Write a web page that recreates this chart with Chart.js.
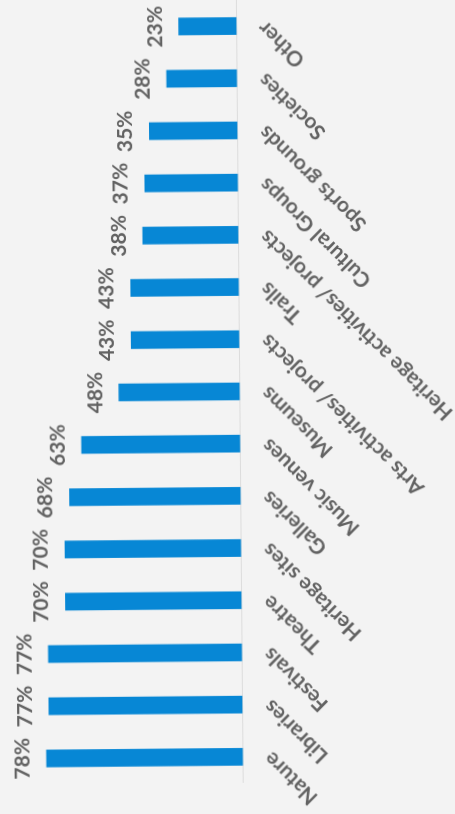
<!DOCTYPE html>
<html>
<head>
<meta charset="utf-8">
<script src="https://cdn.jsdelivr.net/npm/chart.js@4.4.1/dist/chart.umd.min.js"></script>
<style>
  html, body { margin: 0; padding: 0; background: #f3f3f3; overflow: hidden; }
  body { width: 455px; height: 814px; position: relative; }
  /* the scan shows a column chart turned a quarter turn (and a little skewed) */
  #wrap { position: absolute; left: 0; top: 0; width: 814px; height: 470px;
          transform-origin: 0 0; transform: translate(0px, 816px) rotate(-90.5deg); }
</style>
</head>
<body>
<div id="wrap"><canvas id="chart" width="814" height="470"></canvas></div>
<script>
// categories, left to right in the unrotated column chart
const categories = ['Nature', 'Libraries', 'Festivals', 'Theatre', 'Heritage sites', 'Galleries',
  'Music venues', 'Museums', 'Arts activities/ projects', 'Trails', 'Heritage activities/ projects',
  'Cultural Groups', 'Sports grounds', 'Societies', 'Other'];
// percentages
const shares = [78, 77, 77, 70, 70, 68, 63, 48, 43, 43, 38, 37, 35, 28, 23];

const TEXT = '#626262';
const FONT = 'Lato, "Liberation Sans", sans-serif';

// value label above each column
const valueLabels = {
  id: 'valueLabels',
  afterDatasetsDraw(chart) {
    const ctx = chart.ctx;
    const meta = chart.getDatasetMeta(0);
    ctx.save();
    ctx.font = 'bold 21px ' + FONT;
    ctx.fillStyle = TEXT;
    ctx.textAlign = 'center';
    ctx.textBaseline = 'alphabetic';
    meta.data.forEach((bar, i) => {
      ctx.fillText(shares[i] + '%', bar.x, bar.y - 17);
    });
    ctx.restore();
  }
};

new Chart(document.getElementById('chart'), {
  type: 'bar',
  data: {
    labels: categories,
    datasets: [{
      data: shares,
      backgroundColor: '#0787d5',
      borderWidth: 0,
      barThickness: 17
    }]
  },
  options: {
    responsive: false,
    animation: false,
    devicePixelRatio: 1,
    layout: { padding: { left: 31, right: 0, top: 17, bottom: 0 } },
    plugins: { legend: { display: false }, tooltip: { enabled: false } },
    scales: {
      y: { display: false, min: 0, max: 90 },
      x: {
        grid: { display: false, drawTicks: false },
        border: { display: true, color: '#dcdcdc', width: 1 },
        ticks: {
          autoSkip: false,
          minRotation: 45,
          maxRotation: 45,
          padding: 16,
          labelOffset: 1,
          color: TEXT,
          font: { family: FONT, size: 21, weight: 'bold' }
        },
        afterFit(scale) {
          scale.height = 226.5;
          scale.paddingLeft = 0;
          scale.paddingRight = 0;
        }
      }
    }
  },
  plugins: [valueLabels]
});
</script>
</body>
</html>
